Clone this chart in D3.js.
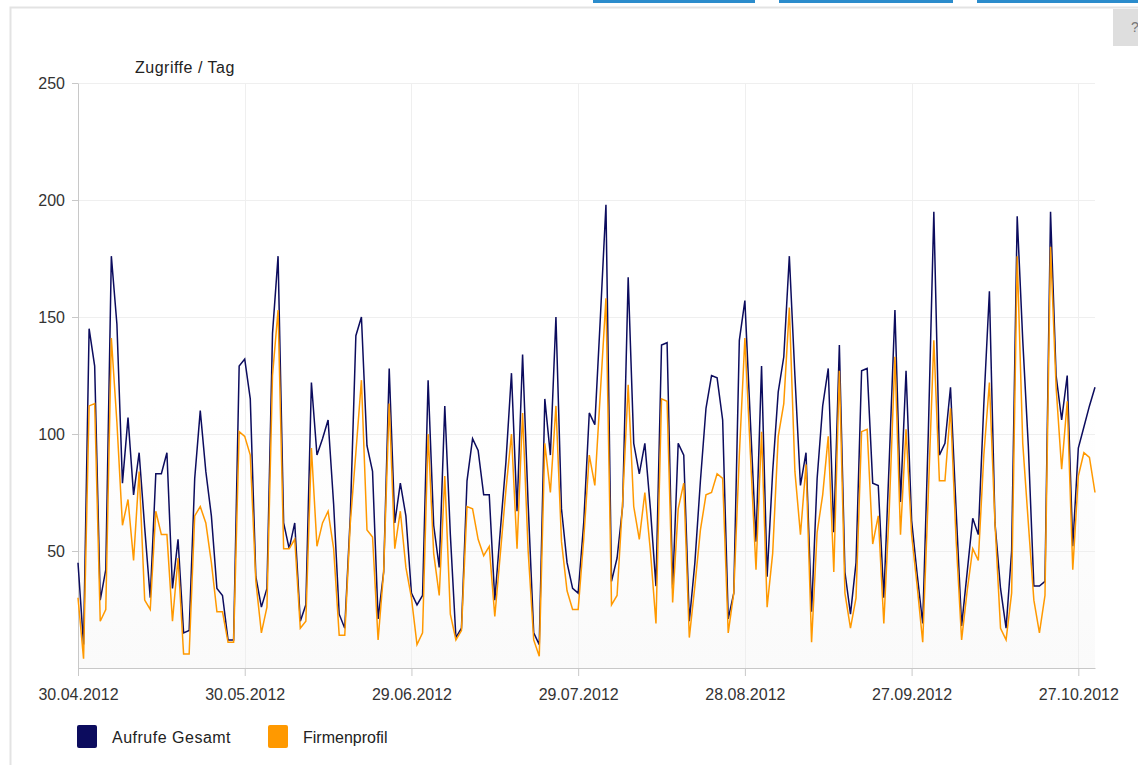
<!DOCTYPE html>
<html>
<head>
<meta charset="utf-8">
<script src="https://cdn.jsdelivr.net/npm/d3@7"></script>
<style>
  html, body { margin: 0; padding: 0; background: #fff; }
  svg { display: block; font-family: "Liberation Sans", Arial, sans-serif; }
</style>
</head>
<body>
<svg id="chart" width="1138" height="765"></svg>
<script>
// Daily page views, 30.04.2012 – 30.10.2012
const startDate = "2012-04-30";

const aufrufeGesamt = [
  45, 10, 145, 129, 29, 42, 176, 147, 79, 107, 74, 92, 60, 30, 83, 83, 92, 34, 55, 15,
  16, 81, 110, 84, 65, 34, 31, 12, 12, 129, 132, 115, 39, 26, 34, 143, 176, 62, 51, 62,
  20, 27, 122, 91, 98, 106, 70, 23, 17, 65, 142, 150, 95, 84, 21, 41, 128, 62, 79, 65,
  32, 27, 31, 123, 61, 43, 112, 57, 13, 17, 80, 98, 93, 74, 74, 29, 59, 88, 126, 67,
  134, 70, 15, 10, 115, 91, 150, 68, 45, 34, 32, 62, 109, 104, 150, 198, 37, 47, 69, 167,
  96, 83, 96, 68, 35, 138, 139, 34, 96, 91, 20, 45, 80, 111, 125, 124, 106, 21, 32, 140,
  157, 105, 54, 129, 39, 84, 118, 133, 176, 125, 78, 92, 24, 81, 112, 128, 58, 138, 41, 23,
  45, 127, 128, 79, 78, 30, 90, 153, 71, 127, 63, 40, 19, 100, 195, 91, 96, 120, 68, 18,
  41, 64, 57, 113, 161, 62, 34, 17, 50, 193, 140, 95, 35, 35, 37, 195, 125, 106, 125, 52,
  94, 103, 112, 120
];

const firmenprofil = [
  30, 4, 112, 113, 20, 25, 141, 105, 61, 72, 46, 84, 29, 25, 67, 57, 57, 20, 47, 6,
  6, 65, 69, 62, 45, 24, 24, 11, 11, 101, 99, 91, 37, 15, 26, 125, 153, 51, 51, 55,
  17, 20, 94, 52, 62, 67, 51, 14, 14, 62, 92, 123, 59, 56, 12, 41, 113, 51, 67, 43,
  30, 10, 15, 100, 49, 31, 82, 23, 12, 16, 69, 68, 55, 48, 52, 22, 49, 76, 100, 51,
  109, 50, 12, 5, 96, 75, 112, 54, 33, 25, 25, 55, 91, 78, 118, 158, 27, 31, 71, 121,
  69, 55, 75, 50, 19, 115, 114, 28, 68, 79, 13, 35, 59, 74, 75, 83, 81, 15, 32, 91,
  141, 91, 42, 101, 26, 49, 99, 113, 154, 84, 57, 87, 11, 58, 74, 99, 41, 127, 32, 17,
  30, 101, 102, 53, 65, 19, 69, 133, 57, 102, 57, 35, 11, 74, 140, 80, 80, 111, 55, 12,
  33, 51, 46, 91, 122, 62, 17, 12, 32, 176, 96, 62, 29, 15, 31, 180, 120, 85, 114, 42,
  82, 92, 90, 75
];

const xTickLabels = ["30.04.2012", "30.05.2012", "29.06.2012", "29.07.2012", "28.08.2012", "27.09.2012", "27.10.2012"];
const yTickValues = [50, 100, 150, 200, 250];

const seriesNames = ["Aufrufe Gesamt", "Firmenprofil"];
const seriesColors = ["#0c0c5e", "#ff9900"];

const svg = d3.select("#chart");

// page frame and surrounding widgets
svg.append("rect").attr("x", 10.5).attr("y", 7.5).attr("width", 1140).attr("height", 770)
  .attr("fill", "#fff").attr("stroke", "#e3e3e3").attr("stroke-width", 2);
[[593, 755], [779, 953], [977, 1138]].forEach(([a, b]) => {
  svg.append("rect").attr("x", a).attr("y", 0).attr("width", b - a).attr("height", 3).attr("fill", "#2b8ccc");
});
svg.append("rect").attr("x", 1113).attr("y", 9).attr("width", 30).attr("height", 37).attr("fill", "#dedede");
svg.append("text").attr("x", 1131).attr("y", 32).attr("font-size", 14).attr("fill", "#777").text("?");

const margin = { left: 78, right: 1095, top: 83, bottom: 668 };

const parseDay = d3.utcParse("%Y-%m-%d");
const parseLabel = d3.utcParse("%d.%m.%Y");
const fmt = d3.utcFormat("%d.%m.%Y");
const t0 = parseDay(startDate);
const dates = aufrufeGesamt.map((_, i) => d3.utcDay.offset(t0, i));

const x = d3.scaleUtc()
  .domain([dates[0], dates[dates.length - 1]])
  .range([margin.left, margin.right]);
const y = d3.scaleLinear().domain([0, 250]).range([margin.bottom, margin.top]);

const tickDates = xTickLabels.map(parseLabel);

// faint background wash in the lower part of the plot
const defs = svg.append("defs");
const grad = defs.append("linearGradient").attr("id", "plotBg").attr("x1", 0).attr("x2", 0).attr("y1", 0).attr("y2", 1);
grad.append("stop").attr("offset", "0%").attr("stop-color", "#ffffff");
grad.append("stop").attr("offset", "55%").attr("stop-color", "#ffffff");
grad.append("stop").attr("offset", "100%").attr("stop-color", "#fafafa");
svg.append("rect").attr("x", margin.left).attr("y", margin.top)
  .attr("width", margin.right - margin.left).attr("height", margin.bottom - margin.top)
  .attr("fill", "url(#plotBg)");

// grid
const grid = svg.append("g");
grid.selectAll("line.h").data(yTickValues).join("line")
  .attr("x1", margin.left).attr("x2", margin.right)
  .attr("y1", d => Math.round(y(d)) + 0.5).attr("y2", d => Math.round(y(d)) + 0.5)
  .attr("stroke", "#efefef").attr("stroke-width", 1);
grid.selectAll("line.v").data(tickDates).join("line")
  .attr("y1", margin.top).attr("y2", margin.bottom)
  .attr("x1", d => Math.round(x(d)) + 0.5).attr("x2", d => Math.round(x(d)) + 0.5)
  .attr("stroke", "#efefef").attr("stroke-width", 1);

// axes
const xAxis = d3.axisBottom(x).tickValues(tickDates).tickFormat(fmt).tickSizeInner(8).tickSizeOuter(0).tickPadding(10);
const gx = svg.append("g").attr("transform", `translate(0,${margin.bottom})`).call(xAxis);
gx.select(".domain").attr("stroke", "#c8c8c8");
gx.selectAll(".tick line").attr("stroke", "#c8c8c8");
gx.selectAll(".tick text").attr("fill", "#333").attr("font-size", 16)
  .attr("font-family", "Liberation Sans, Arial, sans-serif").attr("dy", "0.9em");

const yAxis = d3.axisLeft(y).tickValues(yTickValues).tickSizeInner(6).tickSizeOuter(0).tickPadding(7);
const gy = svg.append("g").attr("transform", `translate(${margin.left},0)`).call(yAxis);
gy.select(".domain").attr("stroke", "#c8c8c8");
gy.selectAll(".tick line").attr("stroke", "#c8c8c8");
gy.selectAll(".tick text").attr("fill", "#333").attr("font-size", 16)
  .attr("font-family", "Liberation Sans, Arial, sans-serif");

svg.append("text").attr("x", 135).attr("y", 73).attr("font-size", 16).attr("fill", "#222")
  .attr("letter-spacing", 0.5).text("Zugriffe / Tag");

// lines
const line = d3.line().x((d, i) => x(dates[i])).y(d => y(d));
[aufrufeGesamt, firmenprofil].forEach((series, k) => {
  svg.append("path").datum(series)
    .attr("fill", "none")
    .attr("stroke", seriesColors[k])
    .attr("stroke-width", 1.5)
    .attr("stroke-linejoin", "miter")
    .attr("d", line);
});

// legend
const legendX = [77, 268];
const legendSpacing = [0.5, 0];
const legend = svg.append("g");
seriesNames.forEach((name, k) => {
  legend.append("rect").attr("x", legendX[k]).attr("y", 725).attr("width", 20).attr("height", 23)
    .attr("rx", 2).attr("fill", seriesColors[k]);
  legend.append("text").attr("x", legendX[k] + 35).attr("y", 743).attr("font-size", 16)
    .attr("fill", "#222").attr("letter-spacing", legendSpacing[k]).text(name);
});
</script>
</body>
</html>
